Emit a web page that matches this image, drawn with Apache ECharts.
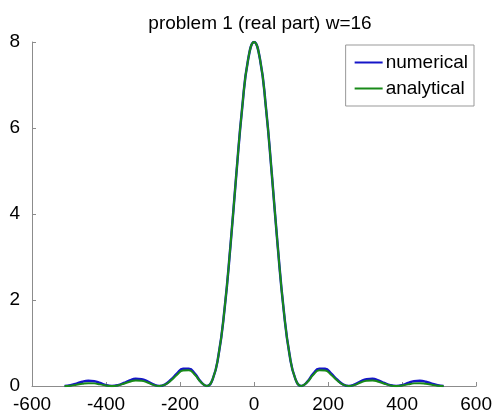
<!DOCTYPE html>
<html>
<head>
<meta charset="utf-8">
<script src="https://cdn.jsdelivr.net/npm/echarts@6/dist/echarts.min.js"></script>
<style>
html, body { margin: 0; padding: 0; background: #fff; }
#chart { width: 495px; height: 416px; }
</style>
</head>
<body>
<div id="chart"></div>
<script>
// sample positions
var xs = [-512, -496, -480, -464, -448, -432, -416, -400, -384, -368, -352, -336, -320, -304, -288, -272,
  -256, -240, -224, -208, -192, -176, -160, -144, -128, -112, -96, -80, -64, -48, -32, -16,
  0, 16, 32, 48, 64, 80, 96, 112, 128, 144, 160, 176, 192, 208, 224, 240,
  256, 272, 288, 304, 320, 336, 352, 368, 384, 400, 416, 432, 448, 464, 480, 496, 512]

var numerical = [0, 0.016, 0.055, 0.10, 0.12, 0.11, 0.07, 0.02, 0.002, 0.02, 0.07, 0.13, 0.17, 0.16, 0.105, 0.035,
  0, 0.04, 0.15, 0.29, 0.40, 0.40, 0.29, 0.10, 0, 0.155, 0.72, 1.77, 3.24, 4.92, 6.48, 7.60,
  8,
  7.60, 6.48, 4.92, 3.24, 1.77, 0.72, 0.155, 0, 0.10, 0.29, 0.40, 0.40, 0.29, 0.15, 0.04,
  0, 0.035, 0.105, 0.16, 0.17, 0.13, 0.07, 0.02, 0.002, 0.02, 0.07, 0.11, 0.12, 0.10, 0.055, 0.016, 0]

var analytical = [0, 0.008, 0.029, 0.053, 0.066, 0.061, 0.038, 0.012, 0, 0.014, 0.054, 0.100, 0.130, 0.123, 0.080, 0.026,
  0, 0.034, 0.132, 0.262, 0.360, 0.366, 0.26, 0.094, 0, 0.155, 0.72, 1.77, 3.24, 4.92, 6.48, 7.60,
  8,
  7.60, 6.48, 4.92, 3.24, 1.77, 0.72, 0.155, 0, 0.094, 0.26, 0.366, 0.360, 0.262, 0.132, 0.034,
  0, 0.026, 0.080, 0.123, 0.130, 0.100, 0.054, 0.014, 0, 0.012, 0.038, 0.061, 0.066, 0.053, 0.029, 0.008, 0]

function pairs(ys) {
  return xs.map(function (x, i) { return [x, ys[i]] })
}

var font = 'Liberation Sans, Arial, Helvetica, sans-serif'
var axisGray = '#8c8c8c'

var chart = echarts.init(document.getElementById('chart'))
chart.setOption({
  animation: false,
  backgroundColor: '#fff',
  title: {
    text: 'problem 1 (real part) w=16',
    left: 255,
    textAlign: 'center',
    top: 9,
    textStyle: { fontFamily: font, fontSize: 19, fontWeight: 'normal', color: '#000' },
  },
  legend: {
    orient: 'vertical',
    right: 21,
    top: 45,
    padding: [8, 6, 8, 9],
    itemGap: 7,
    itemWidth: 28,
    itemHeight: 2,
    icon: 'rect',
    borderColor: '#999',
    borderWidth: 1,
    borderRadius: 0,
    backgroundColor: '#fff',
    textStyle: { fontFamily: font, fontSize: 19, color: '#000', padding: [0, 0, 0, -2] },
    data: ['numerical', 'analytical'],
  },
  grid: { left: 32, right: 17, top: 42, bottom: 30 },
  xAxis: {
    type: 'value',
    min: -600,
    max: 600,
    interval: 200,
    axisLine: { lineStyle: { color: axisGray, width: 1 } },
    axisTick: { inside: true, length: 4, lineStyle: { color: axisGray } },
    axisLabel: { margin: 9, fontFamily: font, fontSize: 19, color: '#000' },
    splitLine: { show: false },
  },
  yAxis: {
    type: 'value',
    min: 0,
    max: 8,
    interval: 2,
    axisLine: { show: true, onZero: false, lineStyle: { color: axisGray, width: 1 } },
    axisTick: { show: true, inside: true, length: 4, lineStyle: { color: axisGray } },
    axisLabel: { margin: 12, fontFamily: font, fontSize: 19, color: '#000' },
    splitLine: { show: false },
  },
  series: [
    {
      name: 'numerical',
      type: 'line',
      data: pairs(numerical),
      smooth: true,
      showSymbol: false,
      itemStyle: { color: '#1515c8' },
      lineStyle: { color: '#1515c8', width: 2.5 },
    },
    {
      name: 'analytical',
      type: 'line',
      data: pairs(analytical),
      smooth: true,
      showSymbol: false,
      itemStyle: { color: '#198a19' },
      lineStyle: { color: '#198a19', width: 2 },
    },
  ],
})
</script>
</body>
</html>
